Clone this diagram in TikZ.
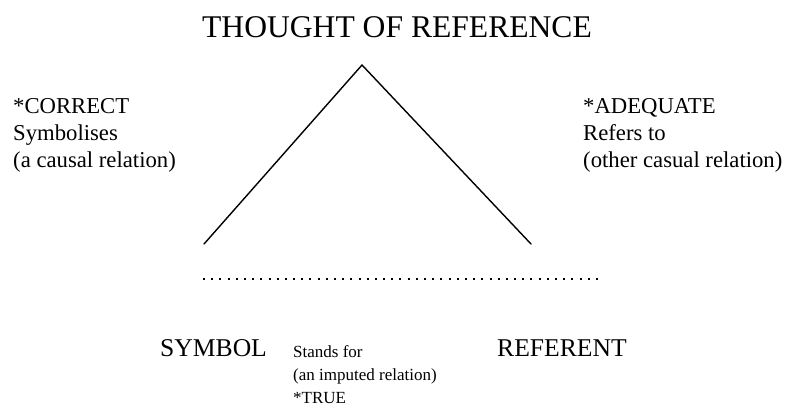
\documentclass[tikz,border=0pt]{standalone}
\usepackage{fontspec}
\setmainfont{Liberation Serif}
\begin{document}
\begin{tikzpicture}[x=1pt,y=-1pt,
  big/.style={font=\fontsize{31.6}{36}\selectfont,inner sep=0pt,anchor=base},
  mid/.style={font=\fontsize{25.6}{30}\selectfont,inner sep=0pt,anchor=base west},
  side/.style={font=\fontsize{22.7}{27}\selectfont,inner sep=0pt,anchor=base west},
  small/.style={font=\fontsize{17}{21}\selectfont,inner sep=0pt,anchor=base west},
  edge/.style={line width=1.4pt,line cap=round},
  dotline/.style={line width=2pt,dash pattern=on 2pt off 6.187pt}]
\useasboundingbox (0,0) rectangle (791,410);
\node[big] (thought) at (397,37) {THOUGHT OF REFERENCE};
\coordinate (apex) at (362,65);
\coordinate (lend) at (204,244);
\coordinate (rend) at (531,244);
\draw[edge] (lend) -- (apex) -- (rend);
\coordinate (dl) at (203,279);
\coordinate (dr) at (598,279);
\draw[dotline] (dl) -- (dr);
\node[side] (c1) at (13,113) {*CORRECT};
\node[side] (c2) at (13,140) {Symbolises};
\node[side] (c3) at (13,167) {(a causal relation)};
\node[side] (a1) at (583,113) {*ADEQUATE};
\node[side] (a2) at (583,140) {Refers to};
\node[side] (a3) at (583,167) {(other casual relation)};
\node[mid] (symbol) at (160,356) {SYMBOL};
\node[mid] (referent) at (497,356) {REFERENT};
\node[small] (s1) at (293,357) {Stands for};
\node[small] (s2) at (293,380) {(an imputed relation)};
\node[small] (s3) at (293,403) {*TRUE};
\end{tikzpicture}
\end{document}
